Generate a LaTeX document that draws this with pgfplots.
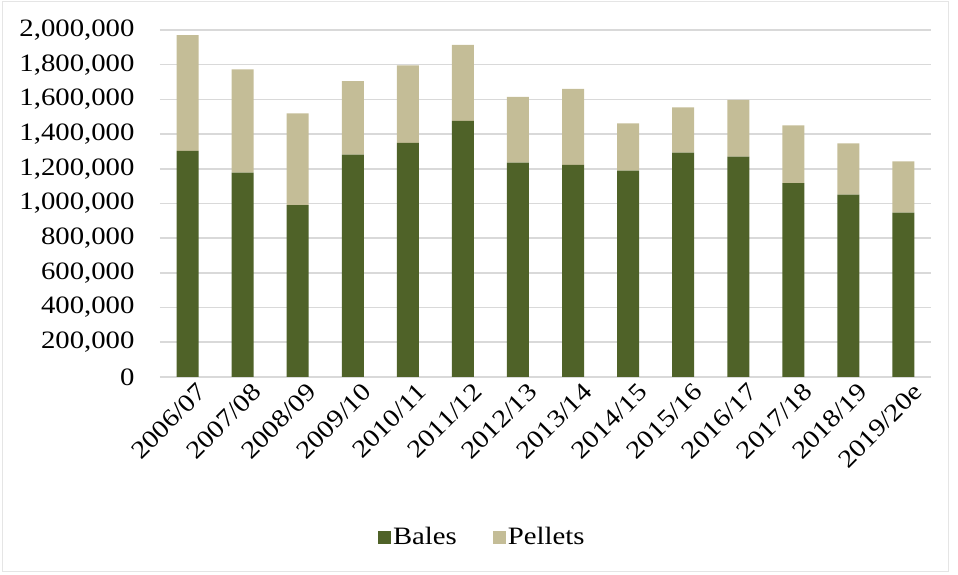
\documentclass[border=0pt]{standalone}
\usepackage{pgfplots}
\pgfplotsset{compat=1.18}
\usepackage{fontspec}
\setmainfont{Liberation Serif}[FakeStretch=1.15]
\definecolor{bales}{HTML}{4F6228}
\definecolor{pellets}{HTML}{C4BD97}
\definecolor{gridc}{HTML}{D9D9D9}
\begin{document}
\begin{tikzpicture}[x=1pt,y=1pt]
\path[use as bounding box] (0,0) rectangle (958,575);
\draw[gray!20, line width=1pt] (2,3) rectangle (948,573);
\begin{axis}[
  at={(160pt,198pt)}, anchor=south west,
  scale only axis, width=771pt, height=347pt,
  ybar stacked, bar width=22pt,
  xmin=-0.5, xmax=13.5, ymin=0, ymax=2000000,
  xtick=data,
  xticklabels={2006/07,2007/08,2008/09,2009/10,2010/11,2011/12,2012/13,2013/14,2014/15,2015/16,2016/17,2017/18,2018/19,2019/20e},
  ytick distance=200000,
  scaled y ticks=false,
  /pgf/number format/fixed,
  /pgf/number format/1000 sep={,},
  /pgf/number format/assume math mode=true,
  font=\fontsize{25}{28}\selectfont,
  ymajorgrids, grid style={gridc, line width=1.6pt},
  axis line style={draw=none},
  major tick length=0pt,
  yticklabel style={anchor=east, xshift=-22pt},
  xticklabel style={rotate=45, anchor=east, xshift=6pt, yshift=-18pt},
  legend style={at={(0.418,-0.461)}, anchor=center, draw=none, legend columns=2, font=\fontsize{25}{28}\selectfont, /tikz/every even column/.append style={column sep=34pt}},
  legend cell align=left,
]
\addplot[fill=bales, draw=none, legend image code/.code={\fill[bales] (-4pt,-7pt) rectangle (9pt,6pt);}] coordinates {
(0,1304000) (1,1178000) (2,991000) (3,1281000) (4,1350000) (5,1476000) (6,1235000)
(7,1222000) (8,1189000) (9,1293000) (10,1270000) (11,1118000) (12,1051000) (13,947000)};
\addplot[fill=pellets, draw=none, legend image code/.code={\fill[pellets] (-4pt,-7pt) rectangle (9pt,6pt);}] coordinates {
(0,667000) (1,595000) (2,529000) (3,425000) (4,446000) (5,438000) (6,379000)
(7,438000) (8,273000) (9,261000) (10,327000) (11,332000) (12,296000) (13,296000)};
\legend{Bales,Pellets}
\end{axis}
\end{tikzpicture}
\end{document}
